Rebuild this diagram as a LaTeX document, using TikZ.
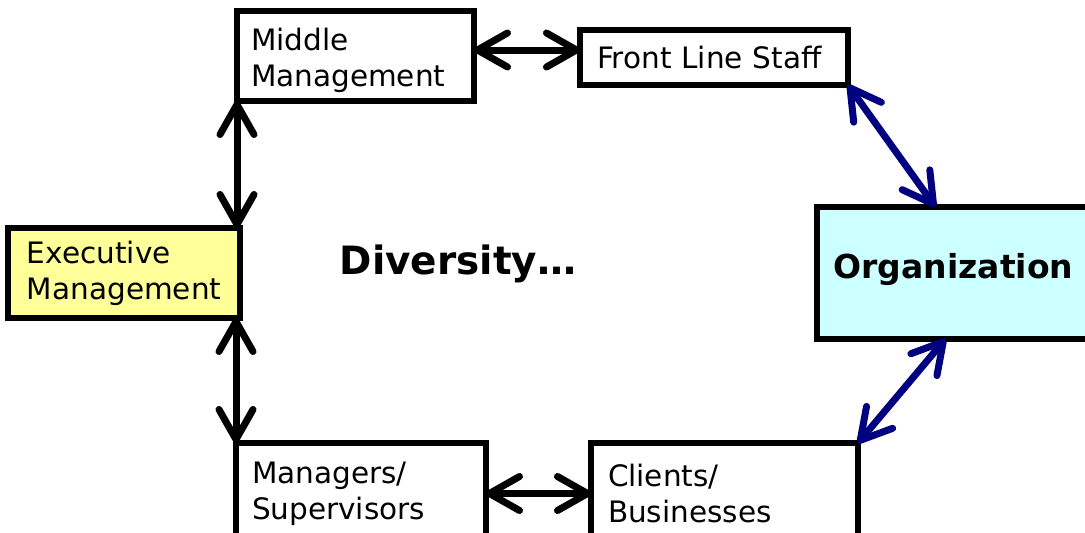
\documentclass[tikz,border=0pt]{standalone}
\usepackage{fontspec}
\setmainfont{DejaVu Sans}
\usetikzlibrary{arrows.meta}
\definecolor{execfill}{HTML}{FFFF99}
\definecolor{orgfill}{HTML}{CCFFFF}
\definecolor{navyarrow}{HTML}{000080}
\begin{document}
\begin{tikzpicture}[x=1pt,y=-1pt,
  box/.style={draw=black, line width=5.5pt, rectangle, inner ysep=0pt, outer sep=0pt, align=left,
    font=\fontsize{29.5}{36}\selectfont},
  biarrow/.style={line width=7pt, {Straight Barb[length=30pt,width=34pt,round]}-{Straight Barb[length=30pt,width=34pt,round]}},
  navyarr/.style={biarrow, draw=navyarrow}]
\useasboundingbox (0,0) rectangle (1085,533);
\node[box, fill=white, minimum width=237pt, minimum height=90pt, inner xsep=14pt, text width=209pt] (mid) at (355.5,56) {\rule{0pt}{32pt}Middle\\Management};
\node[box, fill=white, minimum width=268pt, minimum height=55pt, inner xsep=17pt, text width=234pt] (front) at (714,57.5) {Front Line Staff};
\node[box, fill=execfill, minimum width=232pt, minimum height=90pt, inner xsep=19pt, text width=194pt] (exec) at (124,273) {Executive\\Management};
\node[box, fill=orgfill, minimum width=273pt, minimum height=132pt, inner xsep=0pt, align=center, text width=273pt, font=\fontsize{33}{38}\selectfont\bfseries] (org) at (953.5,273) {\raisebox{15pt}{Organization}};
\node[box, fill=white, minimum width=250pt, minimum height=101pt, inner xsep=16pt, text width=218pt] (mgr) at (361,493.5) {Managers/\\Supervisors};
\node[box, fill=white, minimum width=267pt, minimum height=101pt, inner xsep=17pt, text width=233pt] (cli) at (724.5,493.5) {Clients/\\Businesses};
\node[font=\fontsize{39}{44}\selectfont\bfseries] (div) at (458,264) {Diversity…};
\draw[biarrow] (mid.south west) -- (mid.south west |- exec.north);
\draw[biarrow] (mgr.north west |- exec.south) -- (mgr.north west);
\draw[biarrow] ([yshift=6pt]mid.east) -- ([yshift=7.5pt]front.west);
\draw[biarrow] (mgr.east) -- (cli.west);
\draw[navyarr] (front.south east) -- ([xshift=-18pt]org.north);
\draw[navyarr] ([xshift=-8pt]org.south) -- (cli.north east);
\end{tikzpicture}
\end{document}
